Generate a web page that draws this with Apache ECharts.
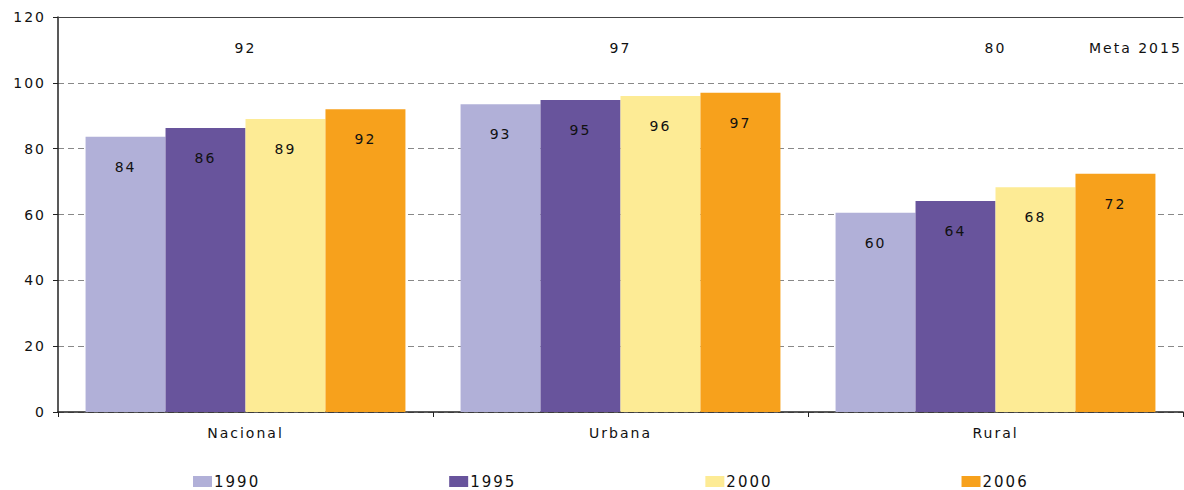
<!DOCTYPE html>
<html>
<head>
<meta charset="utf-8">
<script src="https://cdn.jsdelivr.net/npm/echarts@6/dist/echarts.min.js"></script>
<style>
html,body{margin:0;padding:0;background:#fff;}
#chart{width:1184px;height:490px;}
#chart svg text{letter-spacing:2px;}
</style>
</head>
<body>
<div id="chart"></div>
<script>
var categories = ['Nacional', 'Urbana', 'Rural'];
var years = ['1990', '1995', '2000', '2006'];
var values1990 = [83.6, 93.5, 60.5];
var values1995 = [86.3, 94.8, 64.1];
var values2000 = [89.0, 96.0, 68.3];
var values2006 = [92.0, 97.0, 72.4];
var labels1990 = [84, 93, 60];
var labels1995 = [86, 95, 64];
var labels2000 = [89, 96, 68];
var labels2006 = [92, 97, 72];
var metaValues = [92, 97, 80];
var metaLabel = 'Meta 2015';
var yTicks = [0, 20, 40, 60, 80, 100, 120];

var colors = ['#B1B0D8', '#68549C', '#FDEB95', '#F7A11C'];
var seriesValues = [values1990, values1995, values2000, values2006];
var seriesLabels = [labels1990, labels1995, labels2000, labels2006];
var FONT = '"DejaVu Sans", "Liberation Sans", Arial, sans-serif';
var metaRowY = 110.6;
var TXT = '#111';

var chart = echarts.init(document.getElementById('chart'), null, { renderer: 'svg' });

var series = years.map(function (y, i) {
  return {
    name: y,
    type: 'bar',
    barGap: '0%',
    barCategoryGap: '14.7%',
    itemStyle: { color: colors[i] },
    label: {
      show: true,
      position: 'insideTop',
      distance: 23,
      color: TXT,
      fontFamily: FONT,
      fontSize: 14,
      formatter: function (p) { return seriesLabels[i][p.dataIndex]; }
    },
    data: seriesValues[i]
  };
});

series.push({
  name: 'meta',
  type: 'scatter',
  symbolSize: 1,
  silent: true,
  itemStyle: { color: 'rgba(0,0,0,0)', opacity: 1 },
  label: {
    show: true,
    position: 'inside',
    color: TXT,
    opacity: 1,
    fontFamily: FONT,
    fontSize: 14,
    formatter: function (p) { return metaValues[p.dataIndex]; }
  },
  data: categories.map(function (c) { return [c, metaRowY]; })
});

chart.setOption({
  animation: false,
  textStyle: { fontFamily: FONT },
  grid: { left: 58, right: 1, top: 17, bottom: 78, containLabel: false },
  title: {
    text: metaLabel,
    left: 1084,
    top: 36,
    textStyle: { fontFamily: FONT, fontSize: 14, fontWeight: 'normal', color: TXT }
  },
  legend: {
    bottom: -4,
    left: 188,
    itemWidth: 19,
    itemHeight: 11,
    itemGap: 197,
    icon: 'rect',
    data: years,
    textStyle: { fontFamily: FONT, fontSize: 15, color: TXT, padding: [1, 0, 0, -3] }
  },
  xAxis: [{
    type: 'category',
    data: categories,
    axisLine: { lineStyle: { color: '#222', width: 1.5 } },
    axisTick: { show: true, inside: false, length: 5, lineStyle: { color: '#222' } },
    axisLabel: { color: TXT, fontSize: 14, fontFamily: FONT, margin: 14 }
  }, {
    type: 'category',
    position: 'top',
    data: categories,
    axisLine: { show: true, lineStyle: { color: '#444', width: 1 } },
    axisTick: { show: false },
    axisLabel: { show: false }
  }],
  yAxis: {
    type: 'value',
    min: 0,
    max: 120,
    interval: 20,
    axisLine: { show: true, lineStyle: { color: '#222', width: 1.5 } },
    axisTick: { show: true, length: 5, lineStyle: { color: '#222' } },
    axisLabel: {
      color: TXT, fontSize: 14, fontFamily: FONT, margin: 12,
      formatter: function (v) { return yTicks.indexOf(v) >= 0 ? String(v) : ''; }
    },
    splitLine: { show: true, lineStyle: { color: '#888', type: [6, 4], width: 1 } }
  },
  series: series
});
</script>
</body>
</html>
